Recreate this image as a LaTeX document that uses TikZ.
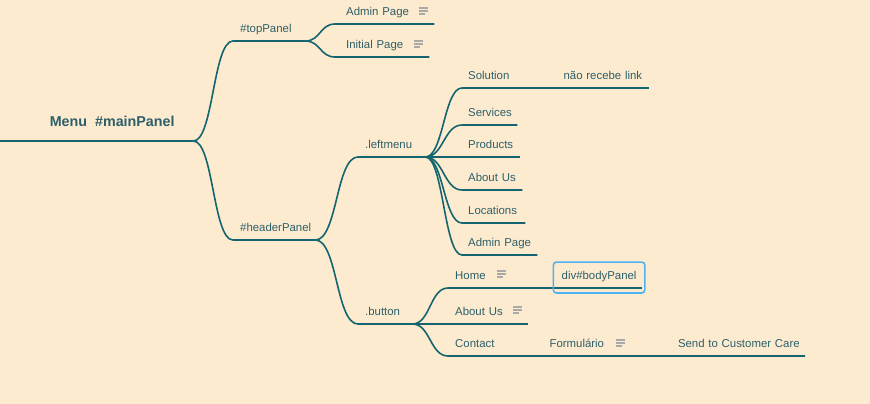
\documentclass[tikz,border=0pt]{standalone}
\usepackage{fontspec}
\setmainfont{Liberation Sans}
\usetikzlibrary{positioning}
\definecolor{paper}{HTML}{FDEBD0}
\definecolor{mapline}{HTML}{14656F}
\definecolor{maptext}{HTML}{2D5F69}
\definecolor{notegray}{HTML}{A9A9A9}
\definecolor{selblue}{HTML}{4DB3F2}

\begin{document}
\begin{tikzpicture}[x=1pt,y=-1pt,
    topic/.style={anchor=south west,inner xsep=7pt,inner ysep=0pt,minimum height=22pt,
      align=left,text height=8.2pt,text depth=2.4pt,
      font=\fontsize{11.4}{13}\selectfont,text=maptext},
    link/.style={draw=mapline,line width=1.6pt},
    fork/.style={out=0,in=180,distance=#1},
    selframe/.style={draw=selblue,line width=1.6pt,rounded corners=3pt},
    note/.style={draw=notegray,line width=1.6pt},
    noteicon/.pic={\draw[note] (0,0) -- (9,0) (0,3) -- (9,3) (0,6) -- (6,6);}]
      \useasboundingbox[fill=paper] (0,0) rectangle (870,404);

      \coordinate (root) at (0,141);
      \node[anchor=south west,minimum width=162pt,minimum height=38pt,inner sep=0pt,
        font=\fontsize{14.3}{16}\selectfont\bfseries,text=maptext] (main) at (31,141) {Menu~~\#mainPanel};

      \path
      (233,41) node[topic,text width=58pt](top) {\#topPanel}
      (233,240) node[topic,text width=68pt](header) {\#headerPanel}
      (335,24) node[topic,inner xsep=11pt,text width=77pt](adminA) {Admin Page}
      (335,57) node[topic,inner xsep=11pt,text width=72pt](initial) {Initial Page}
      (358,157) node[topic,text width=53pt](leftmenu) {.leftmenu}
      (358,324) node[topic,text width=40pt](button) {.button}
      (462,88) node[topic,inner xsep=6pt,text width=83pt](solution) {Solution}
      (462,125) node[topic,inner xsep=6pt,text width=43pt](services) {Services}
      (462,157) node[topic,inner xsep=6pt,text width=46pt](products) {Products}
      (462,190) node[topic,inner xsep=6pt,text width=48pt](aboutA) {About Us}
      (462,223) node[topic,inner xsep=6pt,text width=51pt](locations) {Locations}
      (462,255) node[topic,inner xsep=6pt,text width=63pt](adminB) {Admin Page}
      (448,288) node[topic,text width=91pt](home) {Home}
      (448,324) node[topic,text width=66pt](aboutB) {About Us}
      (448,356) node[topic,text width=81pt](contact) {Contact}
      ;

      \node[topic,right=0pt of solution,inner xsep=6pt,text width=79pt](nolink) {não recebe link};
      \node[topic,right=0pt of contact,inner xsep=6pt,text width=119pt](form) {Formulário};
      \node[topic,right=0pt of form,inner xsep=3pt,text width=124pt](send) {Send to Customer Care};
      \node[topic,right=0pt of home,align=center,inner xsep=0pt,text width=91pt,minimum height=29pt](body) {div\#bodyPanel};

      \draw[link,line width=2.6pt] (root) -- (main.south east);
      \draw[link] (main.south east) to[fork=20pt] (top.south west) -- (top.south east);
      \draw[link] (main.south east) to[fork=20pt] (header.south west) -- (header.south east);

      \draw[link] (top.south east) to[fork=15pt] (adminA.south west) -- (adminA.south east);
      \draw[link] (top.south east) to[fork=15pt] (initial.south west) -- (initial.south east);

      \draw[link] (header.south east) to[fork=22pt] (leftmenu.south west) -- (leftmenu.south east);
      \draw[link] (header.south east) to[fork=22pt] (button.south west) -- (button.south east);

      \draw[link] (leftmenu.south east) to[fork=18pt] (solution.south west) -- (nolink.south east);
      \draw[link] (leftmenu.south east) to[fork=18pt] (services.south west) -- (services.south east);
      \draw[link] (leftmenu.south east) to[fork=18pt] (products.south west) -- (products.south east);
      \draw[link] (leftmenu.south east) to[fork=18pt] (aboutA.south west) -- (aboutA.south east);
      \draw[link] (leftmenu.south east) to[fork=18pt] (locations.south west) -- (locations.south east);
      \draw[link] (leftmenu.south east) to[fork=18pt] (adminB.south west) -- (adminB.south east);

      \draw[link] (button.south east) to[fork=18pt] (home.south west) -- ([xshift=-3pt]body.south east |- home.south);
      \draw[link] (button.south east) to[fork=18pt] (aboutB.south west) -- (aboutB.south east);
      \draw[link] (button.south east) to[fork=18pt] (contact.south west) -- (send.south east);

      \draw[selframe] ([yshift=-1.5pt]body.south west) rectangle (body.north east);

      \pic at (419,8) {noteicon};
      \pic at (414,41) {noteicon};
      \pic at (497,271) {noteicon};
      \pic at (513,307) {noteicon};
      \pic at (616,340) {noteicon};
    \end{tikzpicture}
\end{document}
